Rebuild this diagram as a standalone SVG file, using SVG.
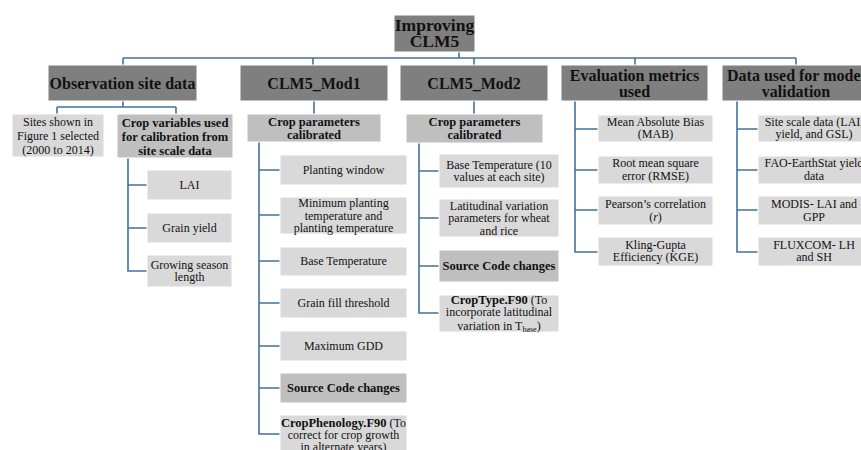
<svg xmlns="http://www.w3.org/2000/svg" width="861" height="450" viewBox="0 0 861 450">
<style>
text{font-family:"Liberation Serif","Times New Roman",serif;fill:#111;text-anchor:middle}
.t0{font-size:17.5px;font-weight:bold}
.t1{font-size:16px;font-weight:bold}
.t2{font-size:12.5px;font-weight:bold}
.t3{font-size:12px}
.b0{fill:#7f7f7f;stroke:#fff;stroke-width:1}
.b2{fill:#bfbfbf;stroke:#fff;stroke-width:1}
.b3{fill:#d9d9d9;stroke:#fff;stroke-width:1}
.c{fill:none;stroke:#41719c;stroke-width:1.6}
</style>
<rect width="861" height="450" fill="#fff"/>
<g id="connectors">
<path class="c" d="M459 52V58M123 58H796M123 58V65M313 58V65M474 58V65M635 58V65M796 58V65"/>
<path class="c" d="M123 101V107M57 107H176M57 107V114M176 107V114"/>
<path class="c" d="M128 158V271H147M128 185H147M128 228H147"/>
<path class="c" d="M314 101V114M259 142V434H280M259 170H280M259 215H280M259 261H280M259 303H280M259 346H280M259 388H280"/>
<path class="c" d="M474 101V114M419 143V313H439M419 171H439M419 218H439M419 266H439"/>
<path class="c" d="M575 101V252H598M575 129H598M575 170H598M575 210H598"/>
<path class="c" d="M737 101V252H758M737 129H758M737 170H758M737 210H758"/>
</g>
<g id="root"><rect class="b0" x="394" y="15" width="81" height="37"/><text class="t0" x="434.5" y="31">Improving</text><text class="t0" x="434.5" y="47">CLM5</text></g>
<g id="obs"><rect class="b0" x="48" y="65" width="149" height="36"/><text class="t1" x="122.5" y="89">Observation site data</text></g>
<g id="mod1"><rect class="b0" x="240" y="65" width="148" height="36"/><text class="t1" x="314" y="89">CLM5_Mod1</text></g>
<g id="mod2"><rect class="b0" x="400" y="65" width="148" height="36"/><text class="t1" x="474" y="89">CLM5_Mod2</text></g>
<g id="eval"><rect class="b0" x="561" y="65" width="147" height="36"/><text class="t1" x="634.5" y="81">Evaluation metrics</text><text class="t1" x="634.5" y="97">used</text></g>
<g id="data"><rect class="b0" x="722" y="65" width="148" height="36"/><text class="t1" x="796" y="81">Data used for model</text><text class="t1" x="796" y="97">validation</text></g>

<g id="sites"><rect class="b3" x="12" y="114" width="92" height="43"/><text class="t3" x="58" y="126">Sites shown in</text><text class="t3" x="58" y="140">Figure 1 selected</text><text class="t3" x="58" y="154">(2000 to 2014)</text></g>
<g id="cropvars"><rect class="b2" x="117" y="114" width="116" height="44"/><text class="t2" x="175" y="126.5">Crop variables used</text><text class="t2" x="175" y="140.5">for calibration from</text><text class="t2" x="175" y="154.5">site scale data</text></g>
<g id="lai"><rect class="b3" x="147" y="170" width="85" height="30"/><text class="t3" x="189.5" y="189">LAI</text></g>
<g id="grain"><rect class="b3" x="147" y="213" width="85" height="30"/><text class="t3" x="189.5" y="232">Grain yield</text></g>
<g id="gsl"><rect class="b3" x="147" y="255" width="85" height="32"/><text class="t3" x="189.5" y="269">Growing season</text><text class="t3" x="189.5" y="281">length</text></g>

<g id="m1params"><rect class="b2" x="247" y="114" width="134" height="28"/><text class="t2" x="314" y="126">Crop parameters</text><text class="t2" x="314" y="139">calibrated</text></g>
<g id="m1a"><rect class="b3" x="280" y="155" width="127" height="30"/><text class="t3" x="343.5" y="174">Planting window</text></g>
<g id="m1b"><rect class="b3" x="280" y="197" width="127" height="37"/><text class="t3" x="343.5" y="207">Minimum planting</text><text class="t3" x="343.5" y="220">temperature and</text><text class="t3" x="343.5" y="232">planting temperature</text></g>
<g id="m1c"><rect class="b3" x="280" y="247" width="127" height="29"/><text class="t3" x="343.5" y="265">Base Temperature</text></g>
<g id="m1d"><rect class="b3" x="280" y="288" width="127" height="30"/><text class="t3" x="343.5" y="307">Grain fill threshold</text></g>
<g id="m1e"><rect class="b3" x="280" y="331" width="127" height="30"/><text class="t3" x="343.5" y="350">Maximum GDD</text></g>
<g id="m1f"><rect class="b2" x="280" y="373" width="127" height="30"/><text class="t2" x="343.5" y="392">Source Code changes</text></g>
<g id="m1g"><rect class="b3" x="280" y="415" width="127" height="40"/><text class="t3" x="343.5" y="427"><tspan font-weight="bold" font-size="12.5px">CropPhenology.F90</tspan> (To</text><text class="t3" x="343.5" y="439">correct for crop growth</text><text class="t3" x="343.5" y="451">in alternate years)</text></g>

<g id="m2params"><rect class="b2" x="406" y="114" width="137" height="29"/><text class="t2" x="474.5" y="126">Crop parameters</text><text class="t2" x="474.5" y="139">calibrated</text></g>
<g id="m2a"><rect class="b3" x="439" y="154" width="120" height="34"/><text class="t3" x="499" y="169">Base Temperature (10</text><text class="t3" x="499" y="181">values at each site)</text></g>
<g id="m2b"><rect class="b3" x="439" y="199" width="120" height="38"/><text class="t3" x="499" y="210">Latitudinal variation</text><text class="t3" x="499" y="222">parameters for wheat</text><text class="t3" x="499" y="235">and rice</text></g>
<g id="m2c"><rect class="b2" x="439" y="250" width="120" height="32"/><text class="t2" x="499" y="270">Source Code changes</text></g>
<g id="m2d"><rect class="b3" x="439" y="295" width="120" height="37"/><text class="t3" x="499" y="304"><tspan font-weight="bold" font-size="12.5px">CropType.F90</tspan>  (To</text><text class="t3" x="499" y="316">incorporate latitudinal</text><text class="t3" x="499" y="330">variation in T<tspan font-size="8px" dy="2">base</tspan><tspan dy="-2">)</tspan></text></g>

<g id="e1"><rect class="b3" x="598" y="115" width="115" height="27"/><text class="t3" x="655.5" y="126">Mean Absolute Bias</text><text class="t3" x="655.5" y="138">(MAB)</text></g>
<g id="e2"><rect class="b3" x="598" y="156" width="115" height="28"/><text class="t3" x="655.5" y="167">Root mean square</text><text class="t3" x="655.5" y="180">error (RMSE)</text></g>
<g id="e3"><rect class="b3" x="598" y="196" width="115" height="29"/><text class="t3" x="655.5" y="208">Pearson’s correlation</text><text class="t3" x="655.5" y="221">(<tspan font-style="italic">r</tspan>)</text></g>
<g id="e4"><rect class="b3" x="598" y="237" width="115" height="29"/><text class="t3" x="655.5" y="249">Kling-Gupta</text><text class="t3" x="655.5" y="261">Efficiency (KGE)</text></g>

<g id="d1"><rect class="b3" x="758" y="115" width="112" height="27"/><text class="t3" x="814" y="126">Site scale data (LAI,</text><text class="t3" x="814" y="138">yield, and GSL)</text></g>
<g id="d2"><rect class="b3" x="758" y="156" width="112" height="28"/><text class="t3" x="814" y="167">FAO-EarthStat yield</text><text class="t3" x="814" y="180">data</text></g>
<g id="d3"><rect class="b3" x="758" y="196" width="112" height="29"/><text class="t3" x="814" y="208">MODIS- LAI and</text><text class="t3" x="814" y="221">GPP</text></g>
<g id="d4"><rect class="b3" x="758" y="237" width="112" height="29"/><text class="t3" x="814" y="249">FLUXCOM- LH</text><text class="t3" x="814" y="261">and SH</text></g>
</svg>
